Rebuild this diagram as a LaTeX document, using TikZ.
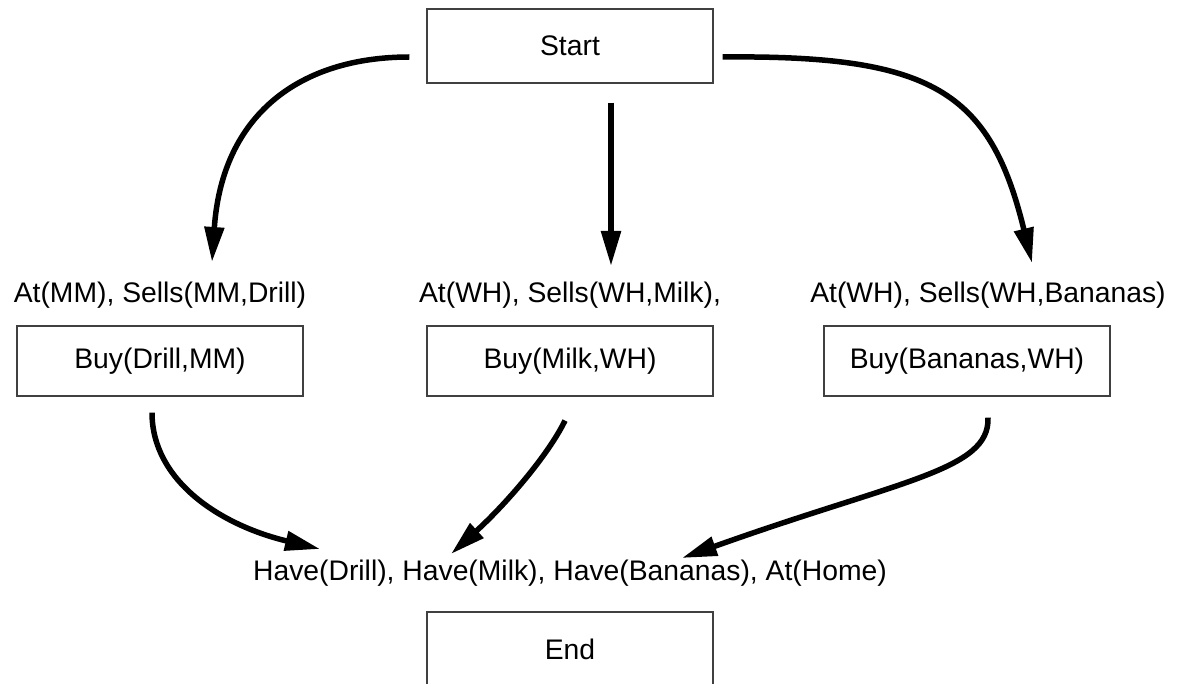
\documentclass[tikz,border=0pt]{standalone}
\usepackage{fontspec}
\setmainfont{Liberation Sans}
\usetikzlibrary{arrows.meta}
\begin{document}
\begin{tikzpicture}[x=1pt,y=-1pt,
  every node/.style={font=\fontsize{28.3}{34}\selectfont},
  stepbox/.style={draw=black!75, line width=1.2pt, minimum width=286pt,
    minimum height=72pt, inner sep=0pt},
  cond/.style={anchor=base, inner sep=0pt},
  flow/.style={line width=5.5pt, -{Triangle[length=35pt,width=19pt]}},
]
\useasboundingbox (0,0) rectangle (1181,684);

% actions
\node[stepbox, minimum height=74pt] (start) at (570,46) {Start};
\node[stepbox, minimum height=70pt] (buyd) at (160,361) {Buy(Drill,MM)};
\node[stepbox, minimum height=70pt] (buym) at (570,361) {Buy(Milk,WH)};
\node[stepbox, minimum height=70pt] (buyb) at (967,361) {Buy(Bananas,WH)};
\node[stepbox, minimum height=74pt] (end) at (570,649) {End};

% preconditions and goal
\node[cond] (pred) at (160,303) {At(MM), Sells(MM,Drill)};
\node[cond] (prem) at (570,303) {At(WH), Sells(WH,Milk),};
\node[cond] (preb) at (988,303) {At(WH), Sells(WH,Bananas)};
\node[cond] (goal) at (570,580) {Have(Drill), Have(Milk), Have(Bananas), At(Home)};

% causal links
\draw[flow] ([shift={(-17,11)}]start.west) .. controls +(-110,0) and +(10,-147) .. ([shift={(52,-41)}]pred.base);
\draw[flow] ([shift={(41,19)}]start.south) -- ([shift={(41,-37)}]prem.base);
\draw[flow] ([shift={(9,11)}]start.east) .. controls +(208,-2) and +(-42,-173) .. ([shift={(44,-40)}]preb.base);

\draw[flow] ([shift={(-8,16)}]buyd.south) .. controls +(0,68) and +(-100,-24) .. ([shift={(-250,-31)}]goal.base);
\draw[flow] ([shift={(-5,24)}]buym.south) .. controls +(-17,35) and +(54,-49) .. ([shift={(-119,-26)}]goal.base);
\draw[flow] ([shift={(21,21)}]buyb.south) .. controls +(2,53) and +(218,-78) .. ([shift={(112,-22)}]goal.base);
\end{tikzpicture}
\end{document}
